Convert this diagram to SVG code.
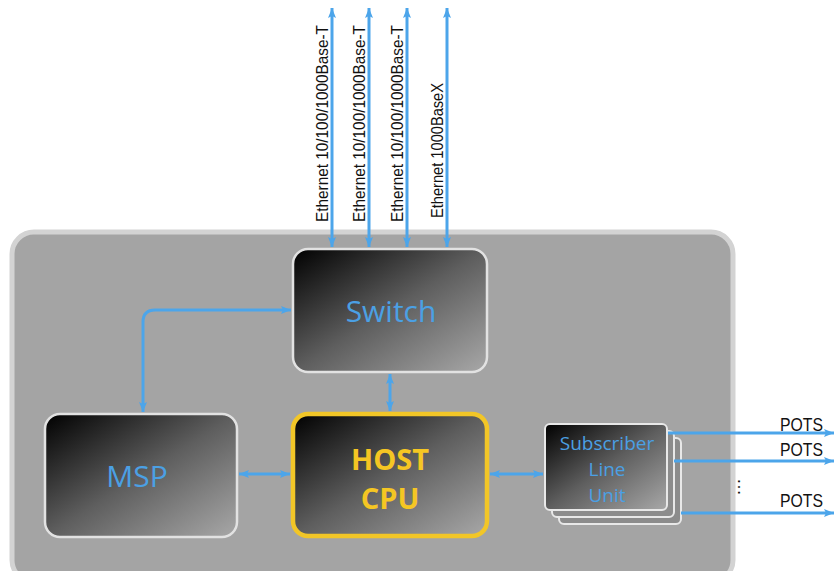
<svg xmlns="http://www.w3.org/2000/svg" width="835" height="571" viewBox="0 0 835 571">
<style>
.box{stroke:#e2e2e2;stroke-width:2.5}
.lbl{font-family:"Open Sans","Liberation Sans",sans-serif;fill:#4ba0e4;text-anchor:middle}
.eth{font-family:"Liberation Sans","Open Sans",sans-serif;font-size:17px;fill:#111}
.pots{font-family:"Liberation Sans","Open Sans",sans-serif;font-size:18px;fill:#111}
.con{fill:none;stroke:#4ca5ea;stroke-width:3}
</style>
<defs>
<linearGradient id="g" x1="0" y1="0" x2="1" y2="1">
<stop offset="0" stop-color="#000"/>
<stop offset="0.5" stop-color="#5e5e5e"/>
<stop offset="1" stop-color="#a8a8a8"/>
</linearGradient>
<marker id="ah" viewBox="0 0 10 8" refX="10" refY="4" markerWidth="10" markerHeight="8" markerUnits="userSpaceOnUse" orient="auto-start-reverse">
<path d="M0,0 L10,4 L0,8 L2,4 z" fill="#4ca5ea"/>
</marker>
</defs>
<rect width="835" height="571" fill="#fff"/>
<g id="chassis">
<rect x="12" y="232" width="721" height="350" rx="22" fill="#a4a4a4" stroke="#d3d3d3" stroke-width="5"/>
</g>
<g id="switch">
<rect class="box" x="293" y="249" width="194" height="123" rx="15" fill="url(#g)"/>
<text class="lbl" x="391" y="322" font-size="30">Switch</text>
</g>
<g id="msp">
<rect class="box" x="45" y="414" width="192" height="123" rx="15" fill="url(#g)"/>
<text class="lbl" x="137" y="487" font-size="30">MSP</text>
</g>
<g id="host-cpu">
<rect x="293" y="414" width="194" height="122" rx="15" fill="url(#g)" stroke="#f2c627" stroke-width="4.5"/>
<text x="390" y="470" font-size="29" font-weight="bold" text-anchor="middle" fill="#f5c623" font-family="Open Sans,Liberation Sans,sans-serif">HOST</text>
<text x="390" y="509" font-size="29" font-weight="bold" text-anchor="middle" fill="#f5c623" font-family="Open Sans,Liberation Sans,sans-serif">CPU</text>
</g>
<g id="slu">
<rect x="559" y="438" width="122" height="86" rx="5" fill="#8c8c8c" stroke="#e8e8e8" stroke-width="2"/>
<rect x="552" y="431" width="122" height="86" rx="5" fill="#8c8c8c" stroke="#e8e8e8" stroke-width="2"/>
<rect x="545" y="424" width="122" height="86" rx="5" fill="url(#g)" stroke="#e8e8e8" stroke-width="2"/>
<text class="lbl" x="607" y="450" font-size="19">Subscriber</text>
<text class="lbl" x="607" y="476" font-size="19">Line</text>
<text class="lbl" x="607" y="502" font-size="19">Unit</text>
</g>
<g id="connectors">
<path class="con" d="M332,8 V247" marker-start="url(#ah)" marker-end="url(#ah)"/>
<path class="con" d="M369,8 V247" marker-start="url(#ah)" marker-end="url(#ah)"/>
<path class="con" d="M407,8 V247" marker-start="url(#ah)" marker-end="url(#ah)"/>
<path class="con" d="M447,8 V247" marker-start="url(#ah)" marker-end="url(#ah)"/>
<path class="con" d="M143,412 V322 Q143,310 155,310 H291" marker-start="url(#ah)" marker-end="url(#ah)"/>
<path class="con" d="M390,374 V411" marker-start="url(#ah)" marker-end="url(#ah)"/>
<path class="con" d="M239,474 H290" marker-start="url(#ah)" marker-end="url(#ah)"/>
<path class="con" d="M490,474 H543" marker-start="url(#ah)" marker-end="url(#ah)"/>
<path class="con" d="M668,433 H834" marker-end="url(#ah)"/>
<path class="con" d="M674,461 H834" marker-end="url(#ah)"/>
<path class="con" d="M681,513 H834" marker-end="url(#ah)"/>
</g>
<g id="labels">
<text class="eth" transform="translate(328,222) rotate(-90)" textLength="197" lengthAdjust="spacingAndGlyphs">Ethernet 10/100/1000Base-T</text>
<text class="eth" transform="translate(365,222) rotate(-90)" textLength="197" lengthAdjust="spacingAndGlyphs">Ethernet 10/100/1000Base-T</text>
<text class="eth" transform="translate(403,222) rotate(-90)" textLength="197" lengthAdjust="spacingAndGlyphs">Ethernet 10/100/1000Base-T</text>
<text class="eth" transform="translate(443,218) rotate(-90)" textLength="135" lengthAdjust="spacingAndGlyphs">Ethernet 1000BaseX</text>
<text class="pots" x="780" y="431" textLength="43" lengthAdjust="spacingAndGlyphs">POTS</text>
<text class="pots" x="780" y="456" textLength="43" lengthAdjust="spacingAndGlyphs">POTS</text>
<text class="pots" x="780" y="507" textLength="43" lengthAdjust="spacingAndGlyphs">POTS</text>
<text x="745" y="494" font-size="18" text-anchor="middle" fill="#111" font-family="Liberation Sans,sans-serif" transform="rotate(90 745 487)">…</text>
</g>
</svg>
